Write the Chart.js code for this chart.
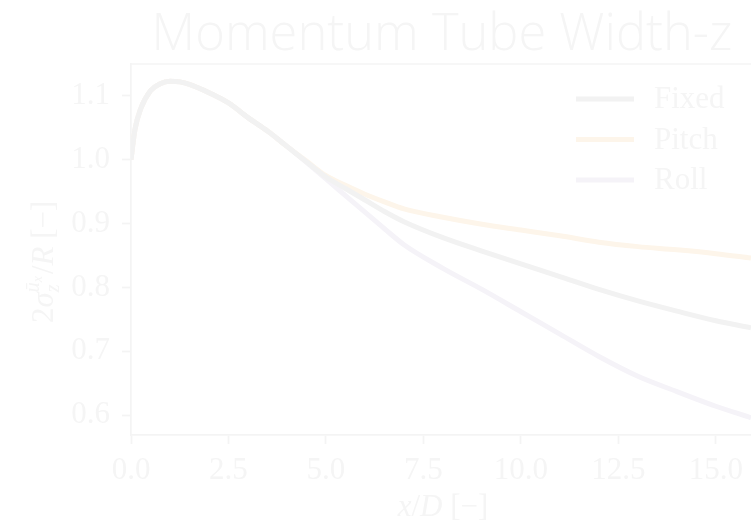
<!DOCTYPE html>
<html>
<head>
<meta charset="utf-8">
<script src="https://cdn.jsdelivr.net/npm/chart.js@4/dist/chart.umd.min.js"></script>
<style>
  html, body { margin: 0; padding: 0; background: #ffffff; }
  canvas { display: block; }
</style>
</head>
<body>
<canvas id="myChart" width="751" height="528"></canvas>
<script>
// data
var xValues = [0, 0.1, 0.25, 0.5, 0.75, 1, 1.25, 1.5, 2, 2.5, 3, 3.5, 4, 4.5, 5, 5.5, 6, 6.5, 7, 8, 9, 10, 11, 12, 13, 14, 15, 15.9];
var fixedValues = [1.0, 1.047, 1.08, 1.108, 1.119, 1.123, 1.122, 1.118, 1.105, 1.089, 1.066, 1.045, 1.021, 0.997,
                   0.973, 0.955, 0.937, 0.919, 0.903, 0.878, 0.857, 0.837, 0.817, 0.797, 0.779, 0.763, 0.748, 0.737];
var pitchValues = [1.0, 1.047, 1.08, 1.108, 1.119, 1.123, 1.122, 1.118, 1.105, 1.089, 1.066, 1.045, 1.021, 0.998,
                   0.975, 0.960, 0.946, 0.934, 0.923, 0.910, 0.899, 0.890, 0.881, 0.871, 0.864, 0.859, 0.853, 0.846];
var rollValues = [1.0, 1.047, 1.08, 1.108, 1.119, 1.123, 1.122, 1.118, 1.105, 1.089, 1.066, 1.045, 1.021, 0.996,
                  0.970, 0.944, 0.918, 0.892, 0.867, 0.830, 0.797, 0.762, 0.727, 0.692, 0.661, 0.637, 0.614, 0.596];
var seriesNames = ['Fixed', 'Pitch', 'Roll'];
var xTicks = [0, 2.5, 5, 7.5, 10, 12.5, 15];
var yTicks = [0.6, 0.7, 0.8, 0.9, 1.0, 1.1];

var textColor = '#f5f5f5';
var spineColor = '#f4f4f4';
var lineColors = ['#f2f2f2', '#fdf5ea', '#f5f3f8'];
var serif = '"Liberation Serif", "DejaVu Serif", serif';

function toPoints(ys) {
    return xValues.map(function (x, i) { return { x: x, y: ys[i] }; });
}

var datasets = [fixedValues, pitchValues, rollValues].map(function (ys, i) {
    return {
        label: seriesNames[i],
        data: toPoints(ys),
        borderColor: lineColors[i],
        backgroundColor: lineColors[i],
        borderWidth: 5,
        pointRadius: 0,
        cubicInterpolationMode: 'monotone',
        fill: false
    };
});

//? extra drawing: title, top spine, axis titles, legend
var extras = {
    id: 'extras',
    afterDraw: function (chart) {
        var ctx = chart.ctx;
        var area = chart.chartArea;
        ctx.save();

        // top spine
        ctx.strokeStyle = spineColor;
        ctx.lineWidth = 1.7;
        ctx.beginPath();
        ctx.moveTo(area.left, area.top);
        ctx.lineTo(area.right, area.top);
        ctx.stroke();

        // title
        ctx.fillStyle = textColor;
        ctx.textBaseline = 'alphabetic';
        ctx.textAlign = 'center';
        ctx.font = '300 52px "Open Sans", sans-serif';
        var t = 'Momentum Tube Width-z';
        var w = ctx.measureText(t).width;
        var size = 52 * 581 / w;
        ctx.font = '300 ' + size.toFixed(1) + 'px "Open Sans", sans-serif';
        ctx.fillText(t, 442, 50);

        // x axis title: x/D [−]
        ctx.textAlign = 'left';
        var parts = [['italic 31px ' + serif, 'x'], ['31px ' + serif, '/'], ['italic 31px ' + serif, 'D'], ['31px ' + serif, ' [\u2212]']];
        var total = 0;
        parts.forEach(function (p) { ctx.font = p[0]; total += ctx.measureText(p[1]).width; });
        var px = 443 - total / 2;
        parts.forEach(function (p) {
            ctx.font = p[0];
            ctx.fillText(p[1], px, 516);
            px += ctx.measureText(p[1]).width;
        });

        // y axis title: 2σ_z^{ū_x}/R [−]
        ctx.save();
        ctx.translate(53, 323);
        ctx.rotate(-Math.PI / 2);
        var cx = 0;
        function put(font, s, dy) {
            ctx.font = font;
            ctx.fillText(s, cx, dy || 0);
            return ctx.measureText(s).width;
        }
        cx += put('31px ' + serif, '2');
        cx += put('italic 31px ' + serif, '\u03c3');
        var sx = cx;
        var wu = put('italic 20px ' + serif, 'u\u0304', -14);
        cx += wu;
        var wx = put('italic 14px ' + serif, 'x', -11);
        cx = sx;
        var wz = put('italic 20px ' + serif, 'z', 6);
        cx = sx + Math.max(wu + wx, wz) + 2;
        cx += put('31px ' + serif, '/');
        cx += put('italic 31px ' + serif, 'R');
        put('31px ' + serif, ' [\u2212]');
        ctx.restore();

        // legend
        ctx.font = '31px ' + serif;
        ctx.textBaseline = 'middle';
        chart.data.datasets.forEach(function (ds, i) {
            var y = 99 + i * 40.5;
            ctx.strokeStyle = ds.borderColor;
            ctx.lineWidth = 5;
            ctx.beginPath();
            ctx.moveTo(576, y);
            ctx.lineTo(634, y);
            ctx.stroke();
            ctx.fillStyle = textColor;
            ctx.fillText(ds.label, 654, y + 1);
        });

        ctx.restore();
    }
};

var ctx = document.getElementById('myChart').getContext('2d');
var chart = new Chart(ctx, {
    type: 'line',
    data: { datasets: datasets },
    options: {
        responsive: false,
        animation: false,
        layout: { padding: { top: 64, right: 0, left: 0, bottom: 0 } },
        plugins: {
            legend: { display: false },
            title: { display: false },
            tooltip: { enabled: false }
        },
        scales: {
            x: {
                type: 'linear',
                min: 0,
                max: 15.9,
                afterBuildTicks: function (scale) {
                    scale.ticks = xTicks.map(function (v) { return { value: v }; });
                },
                afterFit: function (scale) { scale.height = 93; },
                border: { display: true, color: spineColor, width: 1.7 },
                grid: { drawOnChartArea: false, drawTicks: true, tickLength: 9, tickColor: spineColor, tickWidth: 1.7 },
                ticks: {
                    color: textColor,
                    padding: 8,
                    maxRotation: 0,
                    font: { family: serif, size: 31 },
                    callback: function (v) { return v.toFixed(1); }
                }
            },
            y: {
                type: 'linear',
                min: 0.569,
                max: 1.15,
                afterBuildTicks: function (scale) {
                    scale.ticks = yTicks.map(function (v) { return { value: v }; });
                },
                afterFit: function (scale) { scale.width = 131; },
                border: { display: true, color: spineColor, width: 1.7 },
                grid: { drawOnChartArea: false, drawTicks: true, tickLength: 9, tickColor: spineColor, tickWidth: 1.7 },
                ticks: {
                    color: textColor,
                    padding: 12,
                    font: { family: serif, size: 31 },
                    callback: function (v) { return v.toFixed(1); }
                }
            }
        }
    },
    plugins: [extras]
});
</script>
</body>
</html>
